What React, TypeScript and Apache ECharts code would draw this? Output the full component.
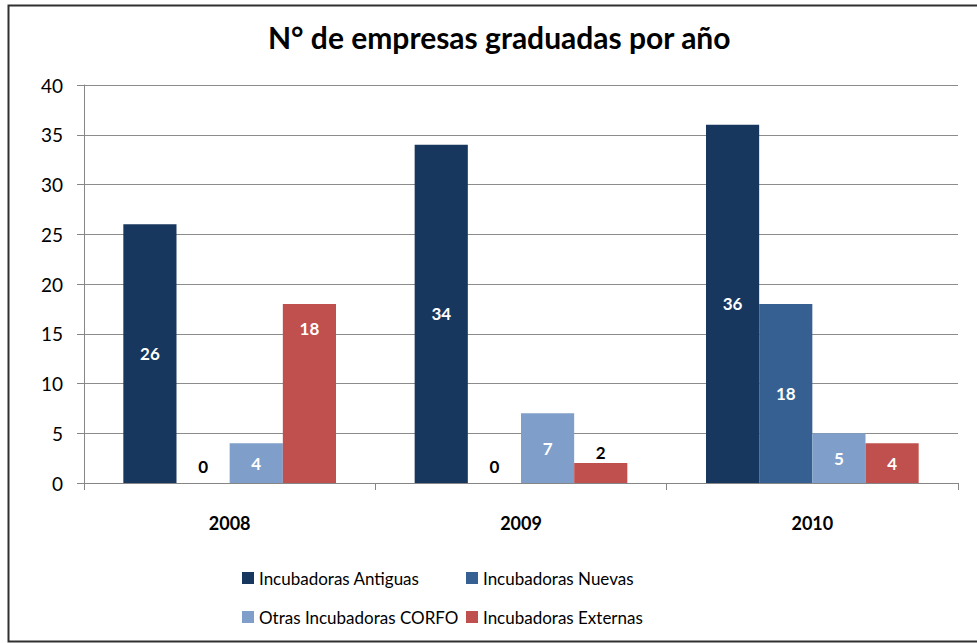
import React, { useEffect, useRef } from "react";
import * as echarts from "echarts";

const title = "N° de empresas graduadas por año";
const categories = ["2008", "2009", "2010"];
const seriesNames = [
  "Incubadoras Antiguas",
  "Incubadoras Nuevas",
  "Otras Incubadoras CORFO",
  "Incubadoras Externas",
];
const antiguas = [26, 34, 36];
const nuevas = [0, 0, 18];
const corfo = [4, 7, 5];
const externas = [18, 2, 4];
const yTicks = [0, 5, 10, 15, 20, 25, 30, 35, 40];

const colors = ["#17375E", "#376092", "#7F9FCA", "#C0504D"];
const FONT = "Lato, 'Noto Sans', sans-serif";

export default function App() {
  const ref = useRef<HTMLDivElement>(null);
  useEffect(() => {
    if (!ref.current) return;
    const chart = echarts.init(ref.current, undefined, { renderer: "svg" });
    const allValues = [antiguas, nuevas, corfo, externas];

    const mkData = (vals: number[], si: number) =>
      vals.map((v, i) => {
        let label: any = {};
        if (v < 3) {
          label = { position: "top", color: "#000000", distance: v === 0 ? 8 : 2 };
        } else if (si === 3 && i === 0) {
          label = { position: "insideTop", distance: 16 };
        }
        return { value: v, label };
      });

    const series = allValues.map((vals, si) => ({
      name: seriesNames[si],
      type: "bar",
      data: mkData(vals, si),
      barGap: "0%",
      barCategoryGap: "27%",
      itemStyle: { color: colors[si] },
      label: {
        show: true,
        position: "inside",
        color: "#FFFFFF",
        fontFamily: FONT,
        fontWeight: "bold",
        fontSize: 17,
      },
    }));

    const legendBase = {
      orient: "vertical",
      top: 568,
      itemWidth: 12,
      itemHeight: 12,
      itemGap: 19,
      itemTextGap: 4,
      padding: 0,
      icon: "rect",
      textStyle: { fontFamily: FONT, fontSize: 17, color: "#000000", lineHeight: 20 },
    };

    chart.setOption({
      animation: false,
      backgroundColor: "#FFFFFF",
      color: colors,
      title: {
        text: title,
        left: 268,
        top: 22,
        padding: 0,
        textStyle: { fontFamily: FONT, fontWeight: "bold", fontSize: 30, color: "#000000" },
      },
      grid: { left: 84, right: 19, top: 85, bottom: 160, containLabel: false },
      xAxis: {
        type: "category",
        data: categories,
        axisLine: { show: true, lineStyle: { color: "#868686", width: 1 } },
        axisTick: { show: true, length: 7, lineStyle: { color: "#868686" } },
        axisLabel: {
          margin: 31,
          fontFamily: FONT,
          fontWeight: "bold",
          fontSize: 18,
          color: "#000000",
        },
      },
      yAxis: {
        type: "value",
        min: yTicks[0],
        max: yTicks[yTicks.length - 1],
        interval: 5,
        axisLine: { show: true, lineStyle: { color: "#868686", width: 1 } },
        axisTick: { show: true, length: 7, lineStyle: { color: "#868686" } },
        axisLabel: { margin: 21, fontFamily: FONT, fontSize: 19, color: "#000000" },
        splitLine: { show: true, lineStyle: { color: "#8C8C8C", width: 1 } },
      },
      legend: [
        { ...legendBase, data: [seriesNames[0], seriesNames[2]], left: 242 },
        { ...legendBase, data: [seriesNames[1], seriesNames[3]], left: 466 },
      ],
      graphic: [
        {
          type: "rect",
          shape: { x: 8.5, y: 5.5, width: 1000, height: 636 },
          style: { fill: "none", stroke: "#303030", lineWidth: 2 },
          silent: true,
        },
      ],
      series,
    });
    return () => chart.dispose();
  }, []);
  return (
    <div
      ref={ref}
      style={{ position: "fixed", left: 0, top: 0, width: 977, height: 643 }}
    />
  );
}
